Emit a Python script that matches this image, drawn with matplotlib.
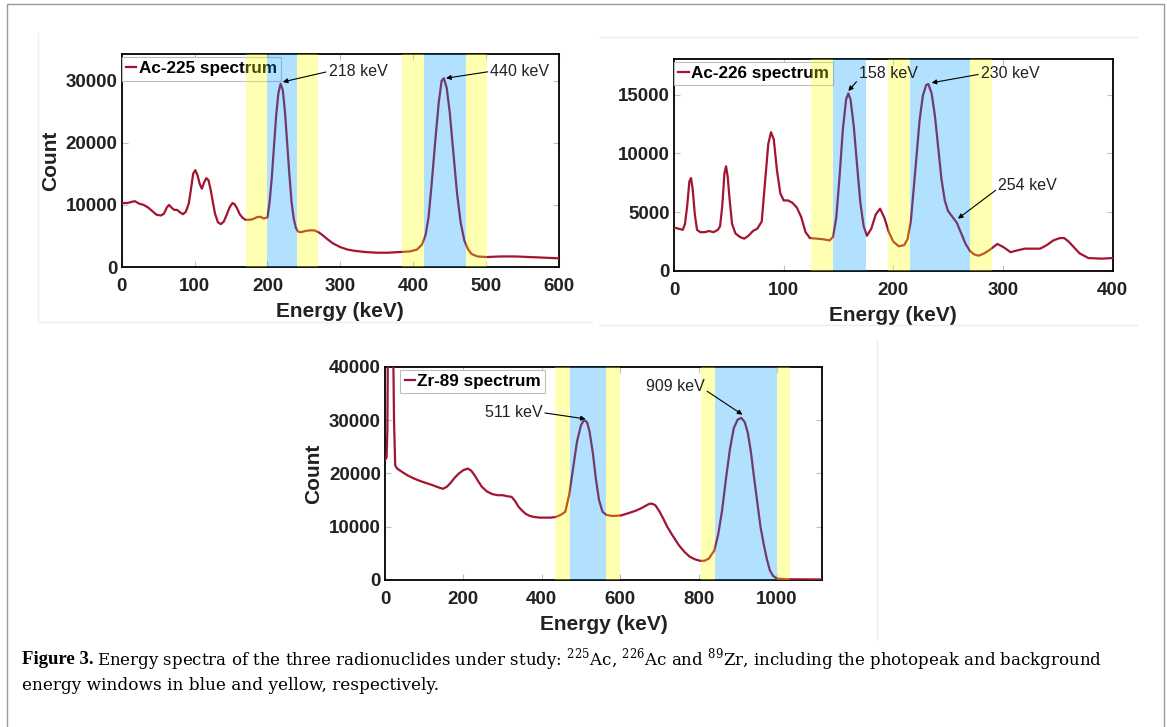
import matplotlib
matplotlib.use("Agg")
import matplotlib.pyplot as plt
from matplotlib.patches import Rectangle
from matplotlib.lines import Line2D

plt.rcParams['font.family'] = ['Liberation Sans', 'DejaVu Sans']
plt.rcParams['mathtext.fontset'] = 'custom'
plt.rcParams['mathtext.rm'] = 'DejaVu Serif'

# --- data (energy in keV, counts) ---
e225 = [0, 8, 14, 18, 24, 30, 36, 42, 48, 54,
        58, 62, 65, 68, 72, 76, 80, 84, 88, 92,
        95, 98, 101, 104, 107, 110, 113, 116, 119, 122,
        125, 128, 132, 136, 140, 144, 148, 152, 155, 158,
        162, 166, 170, 175, 180, 185, 190, 195, 200, 203,
        206, 209, 212, 215, 218, 221, 224, 227, 230, 233,
        236, 239, 242, 246, 252, 258, 264, 270, 276, 282,
        290, 300, 310, 320, 335, 350, 365, 380, 395, 405,
        412, 417, 421, 425, 430, 435, 439, 442, 446, 450,
        455, 460, 465, 470, 475, 480, 488, 500, 520, 540,
        560, 580, 600]
c225 = [10300, 10300, 10500, 10600, 10200, 10000, 9600, 9000, 8400, 8300,
        8600, 9600, 10000, 9600, 9200, 9200, 8800, 8500, 8900, 10200,
        12500, 15000, 15600, 14800, 13400, 12600, 13600, 14300, 14000, 12500,
        10500, 8600, 7200, 6900, 7300, 8400, 9600, 10300, 10100, 9500,
        8500, 7900, 7600, 7600, 7700, 8000, 8100, 7800, 8000, 10500,
        14500, 19500, 24500, 28000, 29500, 28500, 25000, 20000, 15000, 10500,
        7800, 6300, 5700, 5600, 5800, 5900, 5900, 5600, 5100, 4500,
        3800, 3200, 2800, 2600, 2400, 2300, 2300, 2400, 2500, 2800,
        3600, 5200, 8000, 13000, 20000, 26500, 30000, 30400, 28800, 25000,
        18500, 12000, 7200, 4300, 2900, 2100, 1700, 1600, 1700, 1700,
        1600, 1500, 1400]

e226 = [0, 4, 8, 10, 12, 14, 15.5, 17, 19, 21,
        24, 28, 32, 36, 40, 42, 44, 46, 47.5, 49,
        51, 53, 56, 60, 64, 68, 72, 76, 80, 83,
        86, 88.5, 91, 94, 97, 100, 104, 108, 112, 116,
        120, 124, 130, 136, 142, 145, 148, 151, 154, 157,
        159, 161, 164, 167, 170, 173, 176, 180, 184, 188,
        192, 196, 200, 205, 210, 213, 216, 218, 221, 224,
        227, 230, 232, 235, 238, 241, 244, 247, 250, 254,
        258, 262, 266, 270, 274, 278, 283, 288, 295, 301,
        307, 313, 320, 327, 334, 340, 346, 352, 356, 360,
        365, 370, 378, 390, 400]
c226 = [3700, 3600, 3500, 4000, 5500, 7600, 7900, 7000, 4800, 3500,
        3300, 3300, 3400, 3300, 3500, 3800, 5500, 8300, 8900, 8000,
        5800, 4000, 3200, 2900, 2750, 3000, 3400, 3600, 4200, 7500,
        10800, 11800, 11200, 8500, 6600, 6000, 6000, 5800, 5400, 4600,
        3300, 2800, 2750, 2700, 2600, 2900, 4500, 8000, 12000, 14600,
        15100, 14600, 12300, 9000, 5800, 3800, 3000, 3600, 4800, 5300,
        4500, 3300, 2500, 2100, 2200, 2700, 4200, 6300, 9500, 12800,
        14900, 15800, 15900, 15100, 13200, 10500, 7800, 6000, 5100, 4600,
        4100, 3200, 2300, 1700, 1400, 1300, 1500, 1800, 2300, 2000,
        1600, 1750, 1900, 1900, 1900, 2200, 2600, 2800, 2800, 2500,
        2000, 1500, 1100, 1050, 1100]

e89 = [0, 4, 6, 8, 20, 23, 26, 31, 45, 58,
       72, 85, 100, 121, 135, 148, 158, 166, 178, 189,
       200, 211, 220, 229, 238, 247, 260, 274, 288, 301,
       312, 323, 332, 341, 350, 359, 370, 382, 395, 409,
       422, 435, 448, 460, 470, 480, 490, 500, 506, 511,
       516, 522, 530, 538, 546, 555, 565, 580, 602, 624,
       640, 655, 667, 675, 682, 690, 700, 710, 720, 735,
       750, 765, 777, 790, 804, 815, 826, 840, 850, 860,
       870, 880, 890, 900, 909, 918, 926, 934, 942, 950,
       958, 966, 974, 982, 990, 1000, 1020, 1060, 1115]
c89 = [22500, 23000, 28000, 50000, 50000, 30000, 21500, 20900, 20200, 19600,
       19100, 18700, 18300, 17800, 17400, 17100, 17500, 18100, 19200, 20000,
       20600, 20900, 20500, 19600, 18500, 17500, 16600, 16100, 15900, 15900,
       15700, 15600, 14800, 13700, 13000, 12400, 12000, 11800, 11700, 11700,
       11700, 11800, 12200, 12800, 16000, 21000, 26000, 29000, 29800, 29900,
       29500, 27800, 24000, 19000, 15000, 12800, 12200, 12000, 12100, 12600,
       13000, 13500, 14000, 14300, 14300, 14000, 12900, 11500, 10000, 8200,
       6500, 5200, 4400, 3900, 3600, 3600, 4000, 5500, 8500, 13000,
       19000, 24500, 28500, 30100, 30400, 29600, 27500, 23800, 19000, 14500,
       10000, 6800, 4000, 1800, 800, 250, 150, 120, 100]

# energy windows (keV): photopeak = blue, background = yellow
blue225 = [(200, 240), (415, 472)]
yellow225 = [(170, 200), (240, 270), (385, 415), (472, 501)]
blue226 = [(145, 175), (215, 270)]
yellow226 = [(125, 145), (195, 215), (270, 290)]
blue89 = [(472, 565), (842, 999)]
yellow89 = [(435, 472), (565, 599), (806, 842), (999, 1034)]

# peak labels: text, peak (x, y), text (x, y), alignment, arrow start on text
notes225 = [("218 keV", (221, 29800), (284, 31500), 'left', (0, 0.5)),
            ("440 keV", (445, 30400), (506, 31500), 'left', (0, 0.5))]
notes226 = [("158 keV", (159, 15300), (169, 16750), 'left', (0, 0.2)),
            ("230 keV", (235, 16000), (280, 16750), 'left', (0, 0.5)),
            ("254 keV", (259, 4450), (296, 7300), 'left', (0, 0.3))]
notes89 = [("511 keV", (512, 30200), (401, 31400), 'right', (1, 0.5)),
           ("909 keV", (912, 31000), (815, 36300), 'right', (1, 0.3))]

LINE = '#A2142F'


def panel(ax, e, c, blues, yellows, notes, name, xlim, ylim, xt, yt, ylab, leg_x):
    ax.plot(e, c, color=LINE, lw=1.6, zorder=3)
    for a, b in yellows:
        ax.axvspan(a, b, color=(1.0, 1.0, 0.0), alpha=0.3, lw=0, zorder=6)
    for a, b in blues:
        ax.axvspan(a, b, color=(0.0, 0.6, 1.0), alpha=0.3, lw=0, zorder=6)
    ax.set_xlim(*xlim)
    ax.set_ylim(*ylim)
    ax.set_xticks(xt)
    ax.set_yticks(yt)
    for s in ax.spines.values():
        s.set_linewidth(1.3)
    ax.tick_params(direction='in', length=4, color='0.75', top=True, right=True,
                   labelsize=13.5)
    ax.tick_params(axis='x', pad=8)
    ax.tick_params(axis='y', pad=3)
    for lb in ax.get_xticklabels() + ax.get_yticklabels():
        lb.set_fontweight('bold')
        lb.set_color('#222222')
    ax.set_xlabel("Energy (keV)", fontsize=15, fontweight='bold', labelpad=5,
                  color='#222222')
    if ylab:
        ax.set_ylabel("Count", fontsize=15, fontweight='bold', labelpad=4,
                      color='#222222')
    h = Line2D([], [], color=LINE, lw=1.6)
    leg = ax.legend([h], [name], loc='upper left', bbox_to_anchor=(leg_x, 0.985),
                    handlelength=0.6, handletextpad=0.15, borderpad=0.25,
                    borderaxespad=0.0, fancybox=False, framealpha=1,
                    edgecolor='0.75', prop={'weight': 'bold', 'size': 12.3})
    leg.get_frame().set_linewidth(0.8)
    leg.set_zorder(5)
    for txt, xy, xytext, ha, rel in notes:
        ax.annotate(txt, xy=xy, xytext=xytext, ha=ha, va='center', fontsize=11.5,
                    color='#222222', zorder=8,
                    arrowprops=dict(arrowstyle='-|>', color='k', lw=0.8,
                                    mutation_scale=7, shrinkA=0, shrinkB=0,
                                    relpos=rel))


fig = plt.figure(figsize=(11.67, 7.27), dpi=100)
W, H = 1167, 727


def box(l, t, r, b):
    return [l / W, (H - b) / H, (r - l) / W, (b - t) / H]


ax1 = fig.add_axes(box(121.7, 54, 559, 267))
ax2 = fig.add_axes(box(674, 58.7, 1112.5, 271))
ax3 = fig.add_axes(box(385, 366.7, 822, 580))

panel(ax1, e225, c225, blue225, yellow225, notes225, "Ac-225 spectrum",
      (0, 600), (0, 34300), range(0, 601, 100), range(0, 30001, 10000), True, 0.0)
panel(ax2, e226, c226, blue226, yellow226, notes226, "Ac-226 spectrum",
      (0, 400), (0, 18050), range(0, 401, 100), range(0, 15001, 5000), False, 0.0)
panel(ax3, e89, c89, blue89, yellow89, notes89, "Zr-89 spectrum",
      (0, 1115), (0, 40000), range(0, 1001, 200), range(0, 40001, 10000), True, 0.035)

# outer frame and faint panel edges
fig.add_artist(Rectangle((7 / W, -0.01), (1164 - 7) / W, (H - 4) / H + 0.01,
                         transform=fig.transFigure, fill=False, ec='0.6', lw=1.0))
faint = '#eeeeee'
for xs, ys in [((38, 38), (33, 320)), ((38, 592), (322, 322)),
               ((600, 1137), (37, 37)), ((600, 1137), (325, 325)),
               ((877, 877), (340, 640))]:
    fig.add_artist(Line2D([x / W for x in xs], [(H - y) / H for y in ys],
                          color=faint, lw=1, transform=fig.transFigure))

cap0 = "Figure 3."
cap1 = ("Energy spectra of the three radionuclides under study: "
        r"$^{225}$Ac, $^{226}$Ac and $^{89}$Zr, including the photopeak and background")
cap2 = "energy windows in blue and yellow, respectively."
fig.text(22 / W, (H - 660) / H, cap0, fontsize=13.5, family='Liberation Serif',
         fontweight='bold', va='center', ha='left')
fig.text(97 / W, (H - 660) / H, cap1, fontsize=12, family='DejaVu Serif',
         va='center', ha='left')
fig.text(22 / W, (H - 685) / H, cap2, fontsize=12.2, family='DejaVu Serif',
         va='center', ha='left')

fig.savefig("out.png", dpi=100)
